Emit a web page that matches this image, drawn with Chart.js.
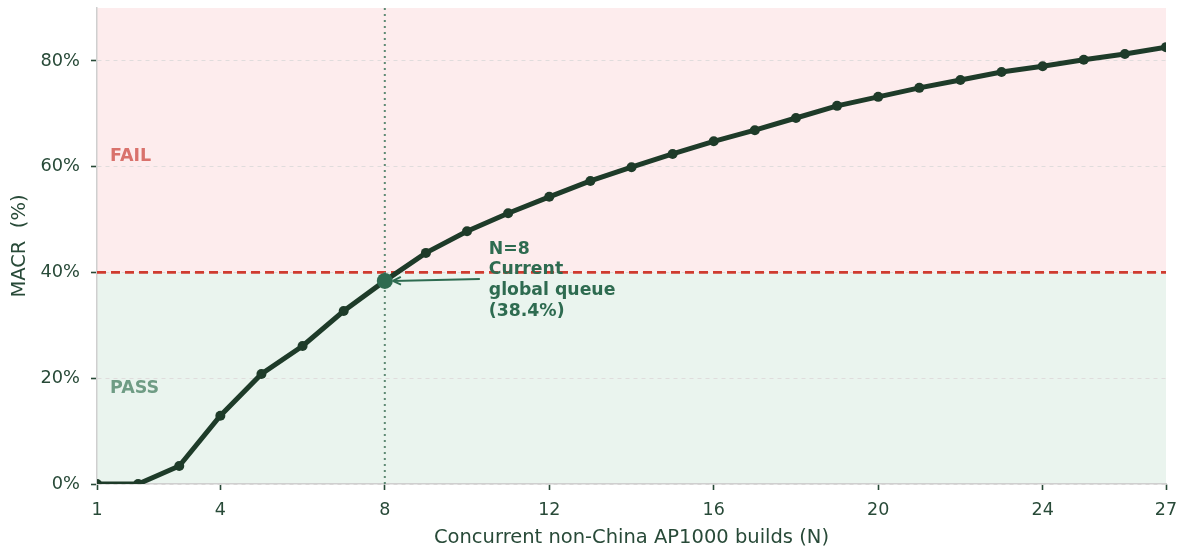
<!DOCTYPE html>
<html>
<head>
<meta charset="utf-8">
<script src="https://cdn.jsdelivr.net/npm/chart.js@4.4.1/dist/chart.umd.min.js"></script>
<style>
  html, body { margin: 0; padding: 0; background: #fff; }
  #wrap { width: 1181px; height: 550px; position: relative; }
</style>
</head>
<body>
<div id="wrap"><canvas id="macrChart"></canvas></div>
<script>
// data
const nValues = [1, 2, 3, 4, 5, 6, 7, 8, 9, 10, 11, 12, 13, 14, 15, 16, 17, 18, 19, 20, 21, 22, 23, 24, 25, 26, 27];
const macrValues = [0, 0, 3.4, 12.9, 20.8, 26.1, 32.7, 38.4, 43.7, 47.8, 51.2, 54.3, 57.3, 59.9, 62.4, 64.8, 66.9, 69.2, 71.5, 73.2, 74.9, 76.4, 77.9, 79.0, 80.2, 81.3, 82.6];
const xTicks = [1, 4, 8, 12, 16, 20, 24, 27];
const yTicks = [0, 20, 40, 60, 80];
const threshold = 40;
const currentN = 8;
const currentMacr = 38.4;
const noteLines = ['N=8', 'Current', 'global queue', '(38.4%)'];

const ink = '#284a38';
const fontFamily = '"DejaVu Sans", sans-serif';

const zonesPlugin = {
    id: 'zones',
    beforeDraw(chart) {
        const { ctx, chartArea: a, scales: { y } } = chart;
        const yThr = y.getPixelForValue(threshold);
        ctx.save();
        ctx.fillStyle = '#fdeced';
        ctx.fillRect(a.left, a.top, a.right - a.left, yThr - a.top);
        ctx.fillStyle = '#eaf4ee';
        ctx.fillRect(a.left, yThr, a.right - a.left, a.bottom - yThr);
        ctx.font = 'bold 17.5px ' + fontFamily;
        ctx.textBaseline = 'middle';
        ctx.fillStyle = '#d9726c';
        ctx.fillText('FAIL', a.left + 13, y.getPixelForValue(62));
        ctx.fillStyle = '#6f9c84';
        ctx.fillText('PASS', a.left + 13, y.getPixelForValue(18));
        ctx.restore();
    },
    beforeDatasetsDraw(chart) {
        const { ctx, chartArea: a, scales: { x, y } } = chart;
        ctx.save();
        // threshold
        ctx.strokeStyle = '#cf3b2f';
        ctx.lineWidth = 2.8;
        ctx.setLineDash([9, 5]);
        const yThr = y.getPixelForValue(threshold);
        ctx.beginPath();
        ctx.moveTo(a.left, yThr);
        ctx.lineTo(a.right, yThr);
        ctx.stroke();
        // current queue marker
        ctx.strokeStyle = '#5f8a74';
        ctx.lineWidth = 2;
        ctx.setLineDash([2, 4]);
        const xc = x.getPixelForValue(currentN);
        ctx.beginPath();
        ctx.moveTo(xc, a.top);
        ctx.lineTo(xc, a.bottom);
        ctx.stroke();
        ctx.restore();
    },
    afterDatasetsDraw(chart) {
        const { ctx, scales: { x, y } } = chart;
        const px = x.getPixelForValue(currentN);
        const py = y.getPixelForValue(currentMacr);
        const tx = x.getPixelForValue(10.53);
        const ty = y.getPixelForValue(44.4);
        ctx.save();
        // arrow
        const tailX = tx - 9, tailY = py - 2;
        const headX = px + 8, headY = py;
        ctx.strokeStyle = '#2e6b50';
        ctx.fillStyle = '#2e6b50';
        ctx.lineWidth = 2;
        ctx.beginPath();
        ctx.moveTo(tailX, tailY);
        ctx.lineTo(headX, headY);
        ctx.stroke();
        const ang = Math.atan2(headY - tailY, headX - tailX);
        ctx.beginPath();
        ctx.moveTo(headX, headY);
        ctx.lineTo(headX - 9 * Math.cos(ang - 0.45), headY - 9 * Math.sin(ang - 0.45));
        ctx.moveTo(headX, headY);
        ctx.lineTo(headX - 9 * Math.cos(ang + 0.45), headY - 9 * Math.sin(ang + 0.45));
        ctx.stroke();
        // note
        ctx.font = 'bold 17.3px ' + fontFamily;
        ctx.textBaseline = 'middle';
        noteLines.forEach((t, i) => ctx.fillText(t, tx, ty + i * 20.7));
        ctx.restore();
    }
};

const ctx = document.getElementById('macrChart').getContext('2d');

const chart = new Chart(ctx, {
    type: 'line',
    data: {
        datasets: [
            {
                label: 'MACR',
                data: nValues.map((n, i) => ({ x: n, y: macrValues[i] })),
                borderColor: '#1e3b29',
                backgroundColor: '#1e3b29',
                borderWidth: 5,
                pointRadius: 5,
                pointBorderWidth: 0,
                tension: 0,
                order: 2
            },
            {
                label: 'Current',
                data: [{ x: currentN, y: currentMacr }],
                showLine: false,
                pointRadius: 8,
                pointBorderWidth: 0,
                backgroundColor: '#2e6b50',
                borderColor: '#2e6b50',
                order: 1
            }
        ]
    },
    options: {
        responsive: true,
        maintainAspectRatio: false,
        animation: false,
        layout: { padding: { top: 8, right: 15, left: 0, bottom: 0 } },
        plugins: {
            legend: { display: false },
            tooltip: { enabled: false }
        },
        scales: {
            x: {
                type: 'linear',
                min: 1,
                max: 27,
                afterBuildTicks: s => { s.ticks = xTicks.map(v => ({ value: v })); },
                afterFit: s => { s.height = 66; s.paddingLeft = 0; s.paddingRight = 0; },
                ticks: {
                    color: ink,
                    font: { family: fontFamily, size: 17.5 },
                    padding: 10,
                    maxRotation: 0,
                    autoSkip: false
                },
                grid: {
                    drawOnChartArea: false,
                    drawTicks: true,
                    tickLength: 6,
                    tickWidth: 1.6,
                    tickColor: ink
                },
                border: { color: '#cfcfcf', width: 1.5 },
                title: {
                    display: true,
                    text: 'Concurrent non-China AP1000 builds (N)',
                    color: ink,
                    font: { family: fontFamily, size: 19.5 },
                    padding: { top: 2, bottom: 0 }
                }
            },
            y: {
                min: 0,
                max: 90,
                afterBuildTicks: s => { s.ticks = yTicks.map(v => ({ value: v })); },
                afterFit: s => { s.width = 97; s.paddingTop = 0; s.paddingBottom = 0; },
                ticks: {
                    color: ink,
                    font: { family: fontFamily, size: 17.8 },
                    padding: 11,
                    callback: v => v + '%'
                },
                grid: {
                    color: '#e0dcdc',
                    lineWidth: 1,
                    drawTicks: true,
                    tickLength: 6,
                    tickWidth: 1.6,
                    tickColor: ink,
                    tickBorderDash: []
                },
                border: { color: '#cfcfcf', width: 1.5, dash: [4, 4] },
                title: {
                    display: true,
                    text: 'MACR  (%)',
                    color: ink,
                    font: { family: fontFamily, size: 19.5 },
                    padding: { top: 8, bottom: 4 }
                }
            }
        }
    },
    plugins: [zonesPlugin]
});
</script>
</body>
</html>
